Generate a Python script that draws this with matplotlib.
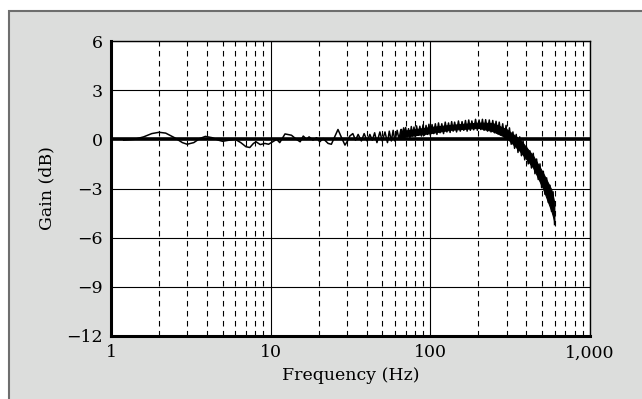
import numpy as np
import matplotlib
matplotlib.use("Agg")
import matplotlib.pyplot as plt
from matplotlib.patches import Rectangle
from matplotlib.ticker import FixedLocator, NullFormatter

plt.rcParams['font.family'] = ['DejaVu Serif']
plt.rcParams['axes.unicode_minus'] = True

# low-frequency part of the response (single line)
freq_low = [1.2, 1.4, 1.6, 1.8, 2.0, 2.2, 2.5, 2.8, 3.0, 3.3,
            3.6, 3.9, 4.3, 4.7, 5.0, 5.5, 6.0, 6.5, 7.0, 7.4,
            7.8, 8.1, 8.6, 9.2, 9.7, 10.3, 10.9, 11.4, 12.3, 13.5,
            14.5, 15.3, 16.0, 16.8, 17.4, 18.4, 19.4, 20.3, 21.3, 22.9,
            24.0, 25.3, 26.4, 27.8, 29.2, 30.3, 31.3, 32.7, 34.0, 35.3,
            37.0, 38.5, 40.2, 41.8, 43.3, 44.8, 46.3, 48.3, 50.0, 52.0,
            53.9, 55.3, 57.0, 58.5, 60.0, 62.0, 63.6, 65.4, 67.3, 68.3]
gain_low = [-0.05, 0.0, 0.15, 0.35, 0.43, 0.38, 0.1, -0.2, -0.3, -0.2,
            0.05, 0.18, 0.1, -0.05, -0.12, -0.05, 0.0, -0.2, -0.45, -0.5,
            -0.25, -0.15, -0.32, -0.25, -0.3, -0.15, 0.0, -0.2, 0.33, 0.25,
            0.0, -0.15, 0.2, 0.0, 0.15, -0.05, 0.1, -0.15, 0.05, -0.25,
            -0.3, 0.2, 0.6, 0.1, -0.35, -0.1, 0.2, 0.35, -0.05, 0.3,
            -0.1, 0.35, -0.1, 0.3, -0.05, 0.4, -0.2, 0.45, -0.1, 0.45,
            -0.2, 0.5, -0.1, 0.55, -0.1, 0.55, 0.0, 0.6, 0.05, 0.6]

# dense noisy part above ~65 Hz, read as a zigzag of peaks and troughs
freq_noise = [65, 66, 67, 68, 69, 70, 71.5, 73, 74.5, 76,
              77.5, 79, 80.5, 82, 84, 86, 88, 90, 92, 94,
              96, 98, 100, 102.5, 105, 107.5, 110, 112.5, 115, 118,
              121, 124, 127, 130, 133, 136, 139, 142, 146, 150,
              154, 158, 162, 166, 170, 174, 178, 182, 187, 192,
              197, 202, 207, 212, 217, 222, 228, 234, 240, 246,
              252, 258, 264, 270, 277, 284, 291, 298, 305, 313,
              321, 329, 337, 345, 354, 363, 372, 381, 390, 400,
              410, 420, 430, 441, 452, 463, 474, 486, 498, 510,
              522, 535, 548, 561, 574, 587, 600]
gain_noise = [0.05, 0.6, 0.1, 0.7, 0.05, 0.72, 0.15, 0.65, 0.1, 0.78,
              0.2, 0.75, 0.15, 0.82, 0.25, 0.8, 0.2, 0.88, 0.25, 0.85,
              0.3, 0.92, 0.25, 0.9, 0.35, 0.95, 0.3, 1.0, 0.4, 0.95,
              0.35, 1.05, 0.45, 1.0, 0.42, 1.08, 0.5, 1.05, 0.45, 1.12,
              0.5, 1.08, 0.55, 1.15, 0.5, 1.18, 0.55, 1.12, 0.58, 1.22,
              0.55, 1.18, 0.6, 1.22, 0.55, 1.2, 0.5, 1.18, 0.45, 1.15,
              0.4, 1.1, 0.35, 1.05, 0.25, 0.95, 0.1, 0.85, -0.05, 0.7,
              -0.3, 0.45, -0.55, 0.3, -0.8, 0.15, -1.0, -0.1, -1.25, -0.45,
              -1.5, -0.7, -1.75, -0.85, -2.1, -1.2, -2.45, -1.5, -2.95, -1.95,
              -3.35, -2.35, -3.85, -2.8, -4.4, -3.2, -5.2]

# solid core of the noisy band
freq_core = [65, 71, 100, 133, 200, 245, 300, 364, 440, 505, 572, 598]
core_upper = [0.5, 0.55, 0.75, 0.88, 1.02, 1.0, 0.62, 0.0, -1.0, -2.0, -3.05, -3.85]
core_lower = [0.1, 0.18, 0.38, 0.58, 0.7, 0.5, 0.1, -0.72, -1.72, -2.95, -4.35, -5.0]

x_ticks = [1, 10, 100, 1000]
x_ticklabels = ['1', '10', '100', '1,000']
y_ticks = [-12, -9, -6, -3, 0, 3, 6]
y_ticklabels = ['\u221212', '\u22129', '\u22126', '\u22123', '0', '3', '6']

fig = plt.figure(figsize=(6.42, 3.99), dpi=100)
fig.patch.set_facecolor('white')
# grey panel with a darker frame, behind the axes
panel = Rectangle((9 / 642, -0.05), 1.2, 0.9724 + 0.05,
                  transform=fig.transFigure, facecolor='#dcdddc',
                  edgecolor='#6e6e6e', linewidth=1.5, zorder=-10)
fig.add_artist(panel)

ax = fig.add_axes([111 / 642, 1 - 336 / 399, (590 - 111) / 642, (336 - 41) / 399])
ax.set_zorder(1)
ax.set_facecolor('white')
ax.set_xscale('log')
ax.set_xlim(1, 1000)
ax.set_ylim(-12, 6)

ax.xaxis.set_major_locator(FixedLocator(x_ticks))
ax.set_xticklabels(x_ticklabels)
minor = [m * 10 ** d for d in range(3) for m in range(2, 10)]
ax.xaxis.set_minor_locator(FixedLocator(minor))
ax.xaxis.set_minor_formatter(NullFormatter())
ax.set_yticks(y_ticks)
ax.set_yticklabels(y_ticklabels)

ax.grid(True, which='major', axis='both', color='black', linewidth=0.8)
ax.grid(True, which='minor', axis='x', color='black', linewidth=0.8,
        linestyle=(0, (5, 4)))
ax.tick_params(which='both', length=0, labelsize=12.5, pad=6)
ax.set_axisbelow(True)

for side in ['left', 'bottom']:
    ax.spines[side].set_linewidth(2.2)
for side in ['top', 'right']:
    ax.spines[side].set_linewidth(1.0)

ax.axhline(0, color='black', linewidth=2.6, zorder=2)
ax.plot(freq_low, gain_low, color='black', linewidth=1.1, zorder=3)
ax.fill_between(freq_core, core_lower, core_upper, facecolor='black',
                edgecolor='black', linewidth=0.8, zorder=3)
ax.plot(freq_noise, gain_noise, color='black', linewidth=1.1, zorder=3)

ax.set_xlabel('Frequency (Hz)', fontsize=12.5, labelpad=4)
ax.set_ylabel('Gain (dB)', fontsize=12.5, labelpad=8)

fig.savefig('out.png', dpi=100)
